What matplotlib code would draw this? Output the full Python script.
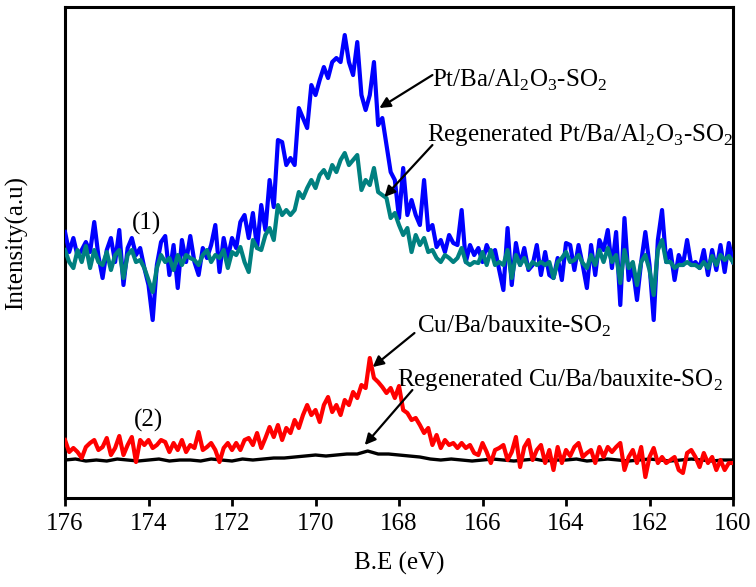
import numpy as np
import matplotlib
matplotlib.use("Agg")
import matplotlib.pyplot as plt

plt.rcParams['font.family'] = ['Liberation Serif', 'DejaVu Serif']
plt.rcParams['mathtext.fontset'] = 'custom'
plt.rcParams['mathtext.rm'] = 'Liberation Serif'

# Binding energy grid (eV), 176 -> 160
be = np.round(np.arange(176.0, 159.95, -0.1), 2)
be_black = np.round(np.arange(176.0, 159.99, -0.25), 2)

pt_fresh = [268, 248, 262, 244, 250, 258, 248, 278, 244, 222,
            250, 262, 238, 270, 215, 252, 262, 245, 252, 232,
            215, 180, 235, 258, 264, 225, 255, 212, 260, 238,
            264, 238, 225, 252, 242, 255, 275, 228, 262, 242,
            262, 252, 278, 285, 262, 287, 252, 295, 270, 320,
            293, 360, 358, 335, 342, 335, 392, 382, 372, 415,
            405, 420, 433, 422, 438, 442, 438, 465, 438, 425,
            458, 405, 390, 405, 438, 375, 382, 355, 328, 320,
            282, 332, 285, 300, 285, 275, 320, 270, 275, 253,
            260, 248, 265, 257, 255, 290, 238, 255, 245, 252,
            238, 255, 245, 250, 230, 210, 272, 215, 257, 235,
            252, 230, 235, 255, 225, 248, 225, 222, 242, 220,
            257, 255, 230, 255, 235, 212, 255, 225, 260, 250,
            270, 232, 268, 195, 282, 220, 232, 200, 238, 268,
            235, 180, 260, 290, 238, 250, 220, 245, 235, 260,
            235, 238, 232, 250, 225, 250, 230, 255, 228, 257,
            238]

pt_regen = [250, 238, 232, 250, 238, 254, 232, 250, 238, 235,
            248, 230, 245, 250, 222, 245, 250, 238, 240, 232,
            220, 208, 232, 245, 238, 242, 230, 245, 235, 245,
            242, 240, 235, 245, 250, 238, 245, 242, 250, 232,
            248, 245, 253, 238, 228, 260, 252, 250, 265, 272,
            260, 295, 285, 290, 285, 290, 308, 302, 312, 320,
            312, 325, 330, 322, 335, 328, 340, 347, 335, 340,
            345, 310, 320, 315, 332, 308, 305, 302, 282, 287,
            275, 265, 272, 248, 265, 255, 262, 248, 250, 242,
            238, 245, 242, 238, 242, 252, 238, 235, 238, 237,
            248, 235, 250, 235, 238, 235, 250, 222, 245, 235,
            242, 232, 238, 235, 238, 235, 238, 222, 238, 242,
            248, 238, 240, 245, 237, 232, 245, 235, 250, 238,
            252, 238, 245, 217, 250, 232, 238, 215, 238, 245,
            230, 205, 250, 260, 238, 238, 232, 235, 235, 238,
            235, 235, 232, 238, 232, 244, 235, 245, 240, 244,
            238]

cu_fresh = [60, 48, 52, 48, 42, 53, 57, 60, 50, 53,
            62, 45, 52, 64, 45, 55, 63, 38, 60, 55,
            60, 52, 55, 60, 58, 48, 57, 50, 60, 48,
            55, 52, 68, 50, 53, 57, 50, 38, 52, 57,
            50, 57, 50, 60, 62, 55, 67, 52, 62, 73,
            63, 75, 60, 72, 67, 80, 72, 85, 95, 85,
            90, 78, 95, 103, 88, 95, 85, 100, 95, 108,
            102, 115, 112, 142, 122, 118, 113, 107, 112, 102,
            114, 90, 87, 80, 82, 75, 67, 72, 55, 65,
            52, 60, 55, 57, 52, 57, 52, 55, 47, 45,
            57, 48, 37, 50, 52, 55, 40, 48, 63, 33,
            53, 60, 40, 50, 55, 37, 50, 30, 53, 37,
            50, 44, 53, 57, 43, 47, 50, 37, 53, 43,
            53, 48, 53, 57, 30, 43, 50, 37, 53, 23,
            43, 52, 37, 43, 37, 40, 43, 30, 27, 47,
            50, 43, 33, 47, 37, 43, 30, 40, 30, 37,
            37]

cu_regen = [40, 41, 39, 40, 39, 41, 40, 39, 40, 41,
            39, 40, 40, 39, 41, 40, 39, 41, 40, 41,
            42, 42, 43, 44, 45, 44, 45, 46, 46, 49,
            46, 46, 45, 44, 43, 41, 40,
            41, 40, 39, 40, 41, 40, 39, 40, 41, 39,
            40, 40, 41, 39, 40, 41, 40, 39, 40, 41,
            40, 39, 40, 41, 40, 39, 40, 40]

fig = plt.figure(figsize=(7.56, 5.87), dpi=100)
ax = fig.add_axes([0.086, 0.1516, 0.8836, 0.8364])

ax.plot(be, pt_fresh, color='#0000FF', lw=3.0, zorder=3)
ax.plot(be, pt_regen, color='#008080', lw=3.0, zorder=4)
ax.plot(be_black, cu_regen, color='black', lw=2.4, zorder=3)
ax.plot(be, cu_fresh, color='#FF0000', lw=3.0, zorder=4)

ax.set_xlim(176, 160)
ax.set_ylim(2, 493)
ax.set_xticks(np.arange(176, 159, -2))
ax.set_yticks([])
ax.tick_params(axis='x', direction='out', length=6, width=2, labelsize=18, pad=5)
for s in ax.spines.values():
    s.set_linewidth(2.2)

ax.set_xlabel('B.E (eV)', fontsize=18, labelpad=12)
ax.set_ylabel('Intensity(a.u)', fontsize=18)
ax.yaxis.set_label_coords(-0.056, 0.52)

fs = 18
arrow = dict(arrowstyle='-|>', color='black', lw=1.6, mutation_scale=16,
             shrinkA=0, shrinkB=0)

ax.text(167.2, 420, 'Pt/Ba/Al$_2$O$_3$-SO$_2$', fontsize=fs, ha='left', va='center')
ax.annotate('', xy=(168.47, 392), xytext=(167.2, 425), arrowprops=arrow, zorder=6)

ax.text(167.32, 365, 'Regenerated Pt/Ba/Al$_2$O$_3$-SO$_2$', fontsize=fs, ha='left', va='center')
ax.annotate('', xy=(168.35, 303), xytext=(167.2, 355), arrowprops=arrow, zorder=6)

ax.text(167.58, 174, 'Cu/Ba/bauxite-SO$_2$', fontsize=fs, ha='left', va='center')
ax.annotate('', xy=(168.63, 133), xytext=(167.63, 167), arrowprops=arrow, zorder=6)

ax.text(168.06, 120, 'Regenerated Cu/Ba/bauxite-SO$_2$', fontsize=fs, ha='left', va='center')
ax.annotate('', xy=(168.82, 55), xytext=(167.68, 110), arrowprops=arrow, zorder=6)

ax.text(174.04, 277, '(1)', fontsize=fs, ha='center', va='center')
ax.text(174.01, 80, '(2)', fontsize=fs, ha='center', va='center')

fig.savefig('out.png', dpi=100)
